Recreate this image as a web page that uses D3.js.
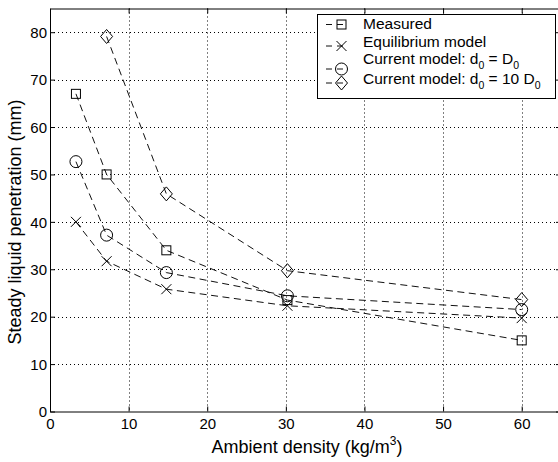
<!DOCTYPE html>
<html>
<head>
<meta charset="utf-8">
<script src="https://cdn.jsdelivr.net/npm/d3@7"></script>
<style>
  html, body { margin: 0; padding: 0; background: #fff; }
  svg { display: block; font-family: "Liberation Sans", Arial, Helvetica, sans-serif; }
</style>
</head>
<body>
<svg id="chart" width="558" height="462"></svg>
<script>
// ---- Data ----
const densities = [3.3, 7.2, 14.8, 30.2, 60];
const measured = [67, 50, 34, 23.5, 15];
const equilibrium = [40, 31.7, 25.8, 22.3, 19.7];
const currentD0 = [52.7, 37.2, 29.3, 24.4, 21.5];
const current10D0 = [null, 79.1, 45.9, 29.7, 23.6];
const xTicks = [0, 10, 20, 30, 40, 50, 60];
const yTicks = [0, 10, 20, 30, 40, 50, 60, 70, 80];
const seriesNames = ["Measured", "Equilibrium model", "Current model: d0 = D0", "Current model: d0 = 10 D0"];
const markerTypes = ["square", "x", "circle", "diamond"];

// ---- Layout ----
const svg = d3.select("#chart");
const L = 50, R = 561, T = 8.5, B = 411.5;
const x = d3.scaleLinear().domain([0, 65]).range([L, R]);
const y = d3.scaleLinear().domain([0, 85]).range([B, T]);

// grid
const grid = svg.append("g").attr("stroke", "#000").attr("stroke-width", 1).attr("stroke-dasharray", "1,3");
xTicks.filter(d => d > 0).forEach(d => {
  grid.append("line").attr("x1", Math.round(x(d)) + 0.5).attr("x2", Math.round(x(d)) + 0.5).attr("y1", T).attr("y2", B);
});
yTicks.filter(d => d > 0).forEach(d => {
  grid.append("line").attr("y1", Math.round(y(d)) + 0.5).attr("y2", Math.round(y(d)) + 0.5).attr("x1", L).attr("x2", R);
});

// axes with inward ticks on all four sides
const fontTick = 15;
const axB = svg.append("g").attr("transform", `translate(0,${B})`)
  .call(d3.axisBottom(x).tickValues(xTicks).tickSizeInner(-5).tickSizeOuter(0).tickPadding(0).tickFormat(d3.format("d")));
const axT = svg.append("g").attr("transform", `translate(0,${T})`)
  .call(d3.axisTop(x).tickValues(xTicks).tickSizeInner(-5).tickSizeOuter(0).tickFormat(""));
const axL = svg.append("g").attr("transform", `translate(${L},0)`)
  .call(d3.axisLeft(y).tickValues(yTicks).tickSizeInner(-5).tickSizeOuter(0).tickFormat(d3.format("d")));
const axR = svg.append("g").attr("transform", `translate(${R},0)`)
  .call(d3.axisRight(y).tickValues(yTicks).tickSizeInner(-5).tickSizeOuter(0).tickFormat(""));
[axB, axT, axL, axR].forEach(a => {
  a.select(".domain").attr("stroke", "#000").attr("stroke-width", 1);
  a.selectAll(".tick line").attr("stroke", "#000");
  a.selectAll("text").attr("font-size", fontTick).attr("fill", "#000")
    .attr("font-family", '"Liberation Sans", Arial, Helvetica, sans-serif');
});
axB.selectAll(".tick text").attr("y", 17).attr("dy", 0);
axL.selectAll(".tick text").attr("x", -3).attr("dy", "0.35em");

// series lines
const seriesData = [measured, equilibrium, currentD0, current10D0];
const lineGen = d3.line().defined(d => d[1] != null).x(d => x(d[0])).y(d => y(d[1]));
const dash = "7,4.5";
seriesData.forEach(vals => {
  const pts = densities.map((d, i) => [d, vals[i]]);
  svg.append("path").attr("d", lineGen(pts)).attr("fill", "none")
    .attr("stroke", "#111").attr("stroke-width", 1).attr("stroke-dasharray", dash);
});

// markers
function drawMarker(g, type, cx, cy) {
  const s = g.append("g").attr("fill", "none").attr("stroke", "#000").attr("stroke-width", 1);
  if (type === "square") {
    s.append("rect").attr("x", cx - 4.5).attr("y", cy - 4.5).attr("width", 9).attr("height", 9);
  } else if (type === "x") {
    s.append("path").attr("d", `M${cx-5},${cy-5}L${cx+5},${cy+5}M${cx-5},${cy+5}L${cx+5},${cy-5}`);
  } else if (type === "circle") {
    s.append("circle").attr("cx", cx).attr("cy", cy).attr("r", 6);
  } else if (type === "diamond") {
    s.append("path").attr("d", `M${cx},${cy-7}L${cx+6},${cy}L${cx},${cy+7}L${cx-6},${cy}Z`);
  }
}
const mg = svg.append("g");
seriesData.forEach((vals, k) => {
  densities.forEach((d, i) => {
    if (vals[i] != null) drawMarker(mg, markerTypes[k], x(d), y(vals[i]));
  });
});

// axis labels
const xl = svg.append("text").attr("x", 307).attr("y", 453).attr("text-anchor", "middle")
  .attr("font-size", 18).attr("fill", "#000");
xl.append("tspan").text("Ambient density (kg/m");
xl.append("tspan").attr("font-size", 12).attr("dy", -8).text("3");
xl.append("tspan").attr("dy", 8).text(")");

svg.append("text").attr("transform", "translate(21,222) rotate(-90)").attr("text-anchor", "middle")
  .attr("font-size", 18).attr("fill", "#000").text("Steady liquid penetration (mm)");

// legend
const lg = svg.append("g");
lg.append("rect").attr("x", 317.5).attr("y", 14.5).attr("width", 238).attr("height", 84)
  .attr("fill", "#fff").attr("stroke", "#000").attr("stroke-width", 1);
const textBase = [28.5, 46.5, 63.5, 83.5];
const markY = [24.5, 46, 69, 83];
seriesNames.forEach((name, k) => {
  lg.append("line").attr("x1", 326).attr("x2", 346).attr("y1", markY[k]).attr("y2", markY[k])
    .attr("stroke", "#111").attr("stroke-width", 1).attr("stroke-dasharray", "6,5");
  drawMarker(lg, markerTypes[k], 341.5, markY[k]);
  const t = lg.append("text").attr("x", 363).attr("y", textBase[k]).attr("font-size", 15.5).attr("fill", "#000");
  const m = name.match(/^(.*d)0( = .*D)0$/);
  if (m) {
    t.append("tspan").text(m[1]);
    t.append("tspan").attr("font-size", 10.5).attr("dy", 5).text("0");
    t.append("tspan").attr("dy", -5).text(m[2]);
    t.append("tspan").attr("font-size", 10.5).attr("dy", 5).text("0");
  } else {
    t.text(name);
  }
});
</script>
</body>
</html>
